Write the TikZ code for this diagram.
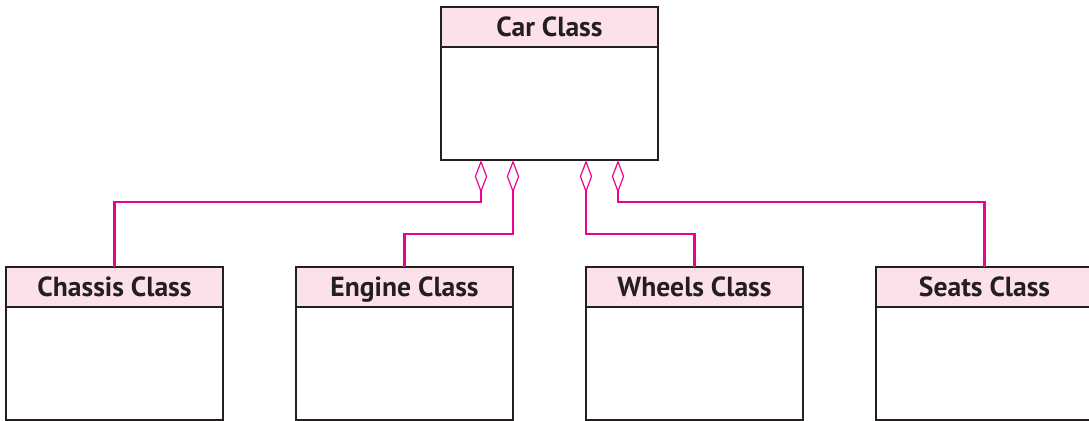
\documentclass[tikz,border=0pt]{standalone}
\usepackage{fontspec}
\setsansfont{PT Sans}
\usetikzlibrary{arrows.meta, positioning, calc}
\definecolor{linkpink}{HTML}{EC008C}
\definecolor{headpink}{HTML}{FCE1EB}
\definecolor{edgedark}{HTML}{231F20}

\begin{document}
\begin{tikzpicture}[
    x=0.5pt, y=-0.5pt,
    font=\sffamily\bfseries,
    every node/.style={inner sep=0pt, outer sep=0pt},
    classhead/.style={
        draw=edgedark, line width=1pt, fill=headpink,
        minimum width=108.5pt, minimum height=20pt,
        text height=9.7pt, text depth=0pt,
        font=\sffamily\bfseries\fontsize{13.8}{16}\selectfont, text=edgedark
    },
    classbody/.style={
        draw=edgedark, line width=1pt, fill=white,
        minimum width=108.5pt, minimum height=56.5pt
    },
    aggr/.style={
        -{Diamond[open, length=16.5pt, width=6.2pt, line width=0.6pt]},
        line width=1.3pt, linkpink
    },
]
\useasboundingbox (0,0) rectangle (1089,420);
\clip (0,0) rectangle (1089,420);

\begin{scope}[overlay]
% === Car class (whole) ===
\node[classhead] (carhead) at (549.5,27) {Car Class};
\node[classbody, below=0pt of carhead] (carbody) {};

% aggregation points on the bottom edge of the car box
\coordinate (aggchassis) at ([xshift=-34.25pt]carbody.south);
\coordinate (aggengine)  at ([xshift=-18.25pt]carbody.south);
\coordinate (aggwheels)  at ([xshift=18.25pt]carbody.south);
\coordinate (aggseats)   at ([xshift=34.25pt]carbody.south);

% === Part classes ===
\node[classhead] (chassishead) at (114.5,287) {Chassis Class};
\node[classbody, below=0pt of chassishead] (chassisbody) {};

\node[classhead] (enginehead) at (404.5,287) {Engine Class};
\node[classbody, below=0pt of enginehead] (enginebody) {};

\node[classhead] (wheelshead) at (694.5,287) {Wheels Class};
\node[classbody, below=0pt of wheelshead] (wheelsbody) {};

\node[classhead] (seatshead) at (984.5,287) {Seats Class};
\node[classbody, below=0pt of seatshead] (seatsbody) {};

% === Aggregation links ===
\draw[aggr] (chassishead.north) -- ++(0,-65) -| (aggchassis);
\draw[aggr] (enginehead.north) -- ++(0,-33) -| (aggengine);
\draw[aggr] (wheelshead.north) -- ++(0,-33) -| (aggwheels);
\draw[aggr] (seatshead.north) -- ++(0,-65) -| (aggseats);
\end{scope}
\end{tikzpicture}
\end{document}
